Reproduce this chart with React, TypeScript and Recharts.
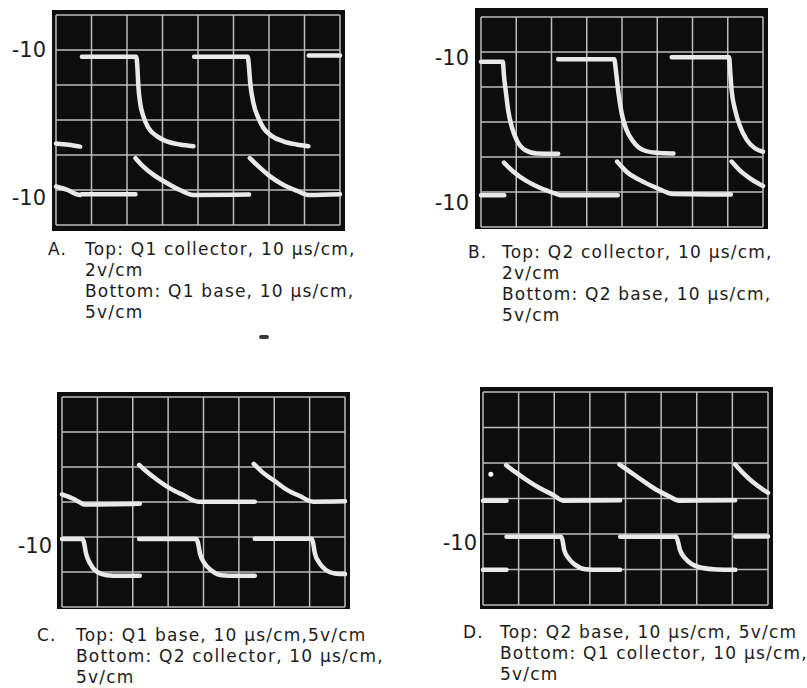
import { CartesianGrid, Line, LineChart, ReferenceDot, XAxis, YAxis } from 'recharts'

type Pt = [number, number] | null

// scope graticule: 8 x 6 divisions
const xDivs = [0, 1, 2, 3, 4, 5, 6, 7, 8]
const yDivs = [0, 1, 2, 3, 4, 5, 6]

// A. top: Q1 collector, bottom: Q1 base
const aTop: Pt[] = [
  [0, 2.33], [0.35, 2.29], [0.68, 2.24], null,
  [0.73, 4.81], [2.26, 4.81], [2.29, 4.55], [2.32, 3.97], [2.37, 3.49], [2.46, 3.11], [2.6, 2.78], [2.84, 2.54], [3.12, 2.39], [3.49, 2.3], [3.87, 2.25], null,
  [3.89, 4.81], [5.4, 4.81], [5.43, 4.59], [5.47, 4.07], [5.56, 3.49], [5.7, 3.06], [5.84, 2.78], [6.08, 2.54], [6.4, 2.39], [6.78, 2.3], [7.11, 2.25], null,
  [7.12, 4.84], [8, 4.84],
]
const aBottom: Pt[] = [
  [0, 1.1], [0.3, 1.01], [0.68, 0.86], [0.73, 0.88], [2.24, 0.88], null,
  [2.24, 1.91], [2.46, 1.67], [2.74, 1.44], [3.12, 1.2], [3.49, 1.0], [3.87, 0.86], [5.44, 0.87], null,
  [5.46, 1.91], [5.75, 1.63], [6.03, 1.39], [6.4, 1.15], [6.78, 0.98], [7.11, 0.86], [8, 0.88],
]
const aLabels = [5.02, 0.78]

// B. top: Q2 collector, bottom: Q2 base
const bTop: Pt[] = [
  [0, 4.72], [0.62, 4.72], [0.65, 4.34], [0.71, 3.82], [0.77, 3.34], [0.87, 2.87], [1.01, 2.49], [1.25, 2.2], [1.58, 2.1], [2.19, 2.09], null,
  [2.19, 4.79], [3.78, 4.79], [3.83, 4.44], [3.9, 3.82], [3.99, 3.25], [4.13, 2.77], [4.32, 2.44], [4.6, 2.2], [4.98, 2.12], [5.46, 2.1], null,
  [5.41, 4.85], [7.04, 4.85], [7.07, 4.44], [7.11, 3.91], [7.21, 3.34], [7.35, 2.87], [7.54, 2.49], [7.77, 2.25], [8, 2.15],
]
const bBottom: Pt[] = [
  [0, 0.91], [0.66, 0.91], null,
  [0.65, 1.84], [0.92, 1.58], [1.25, 1.34], [1.67, 1.12], [2.15, 0.94], [2.24, 0.91], [3.88, 0.91], null,
  [3.86, 1.87], [4.13, 1.58], [4.51, 1.34], [4.98, 1.12], [5.46, 0.94], [7.09, 0.93], null,
  [7.11, 1.87], [7.35, 1.61], [7.63, 1.39], [8, 1.17],
]
const bLabels = [4.83, 0.69]

// C. top: Q1 base, bottom: Q2 collector
const cTop: Pt[] = [
  [0, 3.22], [0.3, 3.1], [0.56, 2.96], [0.62, 2.93], [2.2, 2.95], null,
  [2.18, 4.06], [2.39, 3.87], [2.67, 3.65], [3.05, 3.39], [3.43, 3.2], [3.85, 3.01], [5.45, 3.01], null,
  [5.42, 4.09], [5.68, 3.84], [5.97, 3.63], [6.34, 3.36], [6.72, 3.17], [7.1, 3.01], [8, 3.02],
]
const cBottom: Pt[] = [
  [0, 1.94], [0.58, 1.94], [0.62, 1.85], [0.68, 1.53], [0.79, 1.25], [0.98, 1.01], [1.26, 0.91], [1.64, 0.89], [2.2, 0.89], null,
  [2.18, 1.94], [3.8, 1.94], [3.84, 1.85], [3.9, 1.53], [4.04, 1.23], [4.23, 1.04], [4.51, 0.91], [4.93, 0.89], [5.45, 0.89], null,
  [5.45, 1.95], [7.05, 1.95], [7.09, 1.87], [7.15, 1.53], [7.27, 1.27], [7.46, 1.06], [7.71, 0.96], [8, 0.94],
]
const cLabels = [1.77]

// D. top: Q2 base, bottom: Q1 collector
const dTop: Pt[] = [
  [0, 2.94], [0.66, 2.94], null,
  [0.65, 3.94], [0.9, 3.75], [1.23, 3.52], [1.6, 3.29], [1.97, 3.1], [2.25, 2.94], [3.85, 2.95], null,
  [3.83, 3.96], [4.13, 3.75], [4.46, 3.52], [4.88, 3.24], [5.25, 3.05], [5.49, 2.94], [7.08, 2.95], null,
  [7.08, 3.96], [7.31, 3.71], [7.59, 3.45], [8, 3.16],
]
const dBottom: Pt[] = [
  [0, 0.99], [0.66, 0.99], null,
  [0.66, 1.92], [2.19, 1.92], [2.23, 1.83], [2.28, 1.55], [2.4, 1.32], [2.59, 1.13], [2.87, 1.01], [3.29, 0.99], [3.85, 0.99], null,
  [3.85, 1.92], [5.42, 1.92], [5.46, 1.83], [5.53, 1.55], [5.67, 1.32], [5.86, 1.15], [6.14, 1.05], [6.56, 1.0], [7.08, 0.99], null,
  [7.08, 1.93], [8, 1.93],
]
const dLabels = [1.77]
const dSpeck = [0.22, 3.68]

const captionA = ['Top: Q1 collector, 10 μs/cm,', '2v/cm', 'Bottom: Q1 base, 10 μs/cm,', '5v/cm']
const captionB = ['Top: Q2 collector, 10 μs/cm,', '2v/cm', 'Bottom: Q2 base, 10 μs/cm,', '5v/cm']
const captionC = ['Top: Q1 base, 10 μs/cm,5v/cm', 'Bottom: Q2 collector, 10 μs/cm,', '5v/cm']
const captionD = ['Top: Q2 base, 10 μs/cm, 5v/cm', 'Bottom: Q1 collector, 10 μs/cm,', '5v/cm']

const FONT = '"DejaVu Sans", sans-serif'
const TRACE = '#e9e9e9'

function rows(pts: Pt[]) {
  let lastX = 0
  return pts.map((p) => {
    if (!p) return { x: lastX, y: null }
    lastX = p[0]
    return { x: p[0], y: p[1] }
  })
}

type Rect = { l: number; t: number; r: number; b: number }

function Scope({ box, grid, traces, labels, gap, speck }: { box: Rect; grid: Rect; traces: Pt[][]; labels: number[]; gap: number; speck?: number[] }) {
  const left = grid.l - 56
  return (
    <>
      <div style={{ position: 'absolute', left: box.l, top: box.t, width: box.r - box.l, height: box.b - box.t, background: '#0d0d0d' }} />
      <div style={{ position: 'absolute', left, top: box.t }}>
        <LineChart
          width={box.r - left}
          height={box.b - box.t}
          margin={{ top: grid.t - box.t, right: box.r - grid.r, bottom: box.b - grid.b, left: 0 }}
        >
          <CartesianGrid yAxisId="grid" stroke="#bcbcbc" strokeWidth={1.5} />
          <XAxis type="number" dataKey="x" domain={[0, 8]} ticks={xDivs} interval={0} hide />
          <YAxis
            yAxisId="lbl"
            type="number"
            domain={[0, 6]}
            allowDataOverflow
            ticks={labels}
            interval={0}
            width={56}
            tickSize={0}
            tickMargin={gap}
            axisLine={false}
            tickLine={false}
            tickFormatter={() => '-10'}
            tick={{ fontSize: 21, fill: '#1c1c1c', fontFamily: FONT }}
          />
          <YAxis yAxisId="grid" type="number" domain={[0, 6]} ticks={yDivs} interval={0} width={0} hide />
          {traces.map((t, i) => (
            <Line
              key={i}
              yAxisId="grid"
              data={rows(t)}
              dataKey="y"
              type="monotone"
              stroke={TRACE}
              strokeWidth={4.5}
              strokeLinecap="round"
              dot={false}
              connectNulls={false}
              isAnimationActive={false}
            />
          ))}
          {speck && <ReferenceDot yAxisId="grid" x={speck[0]} y={speck[1]} r={2.5} fill="#fff" stroke="none" />}
        </LineChart>
      </div>
    </>
  )
}

function Caption({ letter, lx, tx, top, lines }: { letter: string; lx: number; tx: number; top: number; lines: string[] }) {
  const text = { fontFamily: FONT, fontSize: 17, letterSpacing: 1.2, lineHeight: '21px', color: '#1c1c1c', whiteSpace: 'nowrap' as const }
  return (
    <>
      <div style={{ position: 'absolute', left: lx, top, ...text }}>{letter}</div>
      <div style={{ position: 'absolute', left: tx, top, ...text }}>
        {lines.map((l, i) => (
          <div key={i}>{l}</div>
        ))}
      </div>
    </>
  )
}

export default function App() {
  return (
    <div style={{ position: 'absolute', left: 0, top: 0, width: 807, height: 688, background: '#fff', overflow: 'hidden' }}>
      <Scope box={{ l: 52, t: 10, r: 345, b: 231 }} grid={{ l: 56, t: 15, r: 340, b: 225 }} traces={[aTop, aBottom]} labels={aLabels} gap={10} />
      <Scope box={{ l: 475, t: 8, r: 768, b: 229 }} grid={{ l: 481, t: 17, r: 763, b: 227 }} traces={[bTop, bBottom]} labels={bLabels} gap={12} />
      <Scope box={{ l: 57, t: 392, r: 350, b: 609 }} grid={{ l: 62, t: 397, r: 345, b: 607 }} traces={[cTop, cBottom]} labels={cLabels} gap={10} />
      <Scope box={{ l: 480, t: 387, r: 773, b: 609 }} grid={{ l: 483, t: 392, r: 768, b: 605 }} traces={[dTop, dBottom]} labels={dLabels} gap={6} speck={dSpeck} />
      <div style={{ position: 'absolute', left: 259, top: 335, width: 10, height: 4, borderRadius: 2, background: '#3a3a3a' }} />
      <Caption letter="A." lx={48} tx={85} top={239} lines={captionA} />
      <Caption letter="B." lx={468} tx={502} top={242} lines={captionB} />
      <Caption letter="C." lx={37} tx={76} top={625} lines={captionC} />
      <Caption letter="D." lx={463} tx={500} top={622} lines={captionD} />
    </div>
  )
}
